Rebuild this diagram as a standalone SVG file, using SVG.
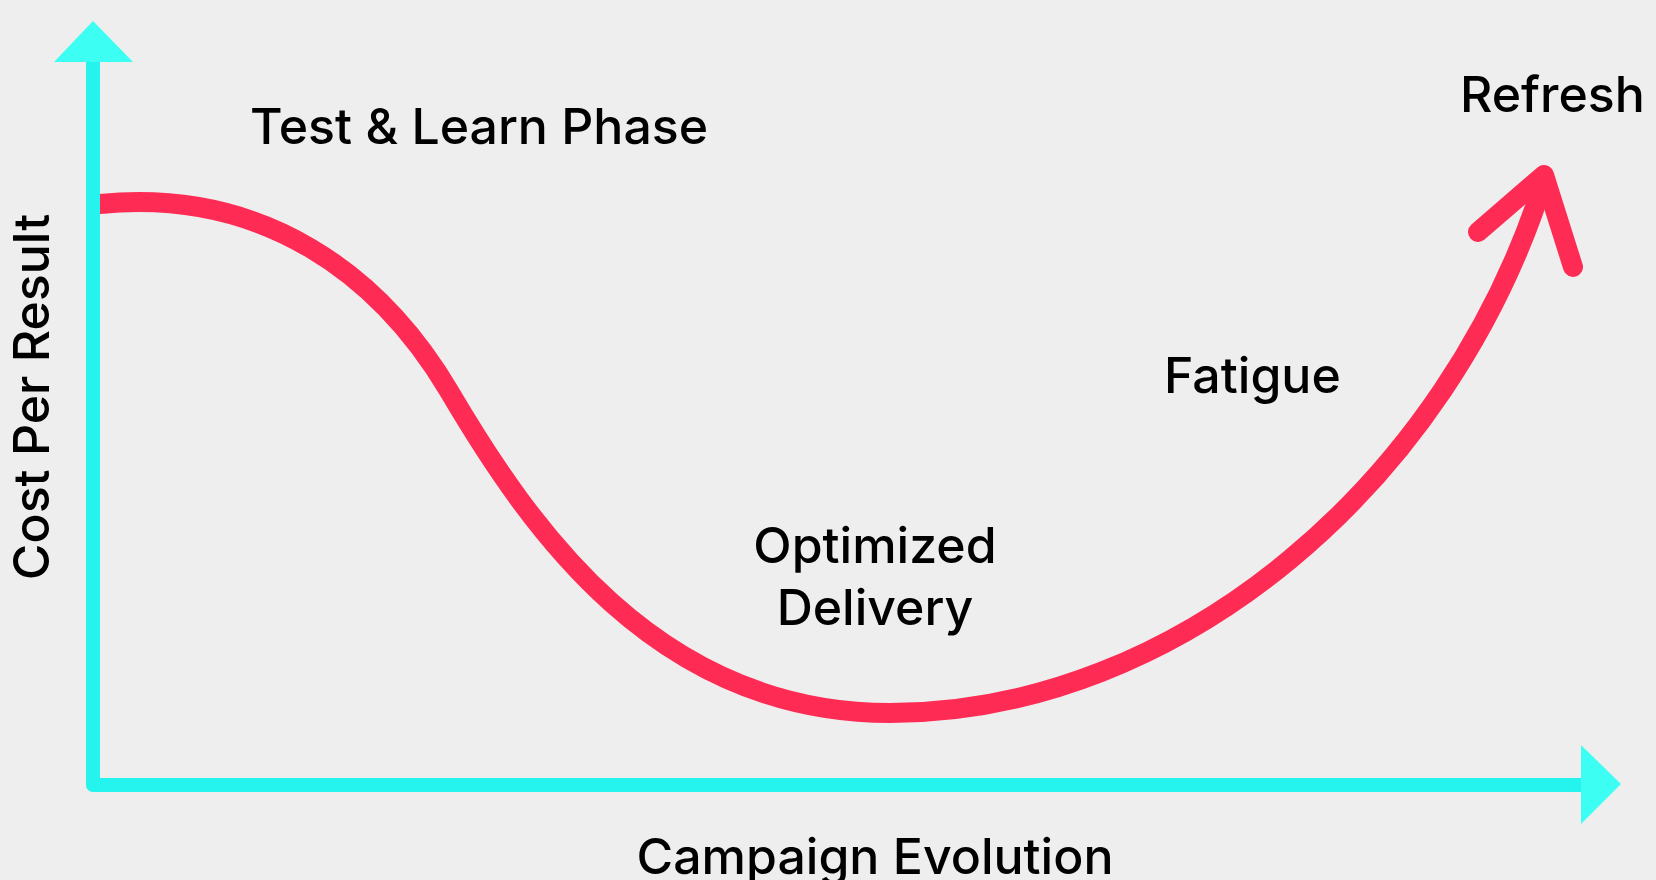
<svg xmlns="http://www.w3.org/2000/svg" width="1656" height="880" viewBox="0 0 1656 880">
<style>
.lbl{font-family:Inter,"Liberation Sans",sans-serif;font-size:50px;font-weight:500;fill:#000}
.axis{fill:none;stroke:#25F4EE;stroke-width:14;stroke-linejoin:round}
.head{fill:#3DFEF2}
.curve{fill:none;stroke:#FE2C55;stroke-width:20;stroke-linecap:round;stroke-linejoin:round}
</style>
<rect width="1656" height="880" fill="#eeeeee"/>
<g id="connectors">
<path class="curve" d="M100,204 C264,188 380,275 449,391 C528,525 655,713 890,713 C1180,713 1450,480 1544,180"/>
<polyline class="curve" points="1478,232 1544,175 1573,267"/>
<path class="axis" d="M93,62 L93,785 L1581,785"/>
<polygon class="head" points="93,21 133,62 54,62"/>
<polygon class="head" points="1621,784 1581,745 1581,824"/>
</g>
<g id="y-axis-label"><text class="lbl" transform="translate(49,397) rotate(-90)" text-anchor="middle">Cost Per Result</text></g>
<g id="x-axis-label"><text class="lbl" x="875" y="874" text-anchor="middle">Campaign Evolution</text></g>
<g id="test-learn"><text class="lbl" x="250" y="144">Test &amp; Learn Phase</text></g>
<g id="refresh"><text class="lbl" x="1460" y="112">Refresh</text></g>
<g id="fatigue"><text class="lbl" x="1164" y="393">Fatigue</text></g>
<g id="optimized"><text class="lbl" x="875" y="563" text-anchor="middle">Optimized</text><text class="lbl" x="875" y="625" text-anchor="middle">Delivery</text></g>
</svg>
